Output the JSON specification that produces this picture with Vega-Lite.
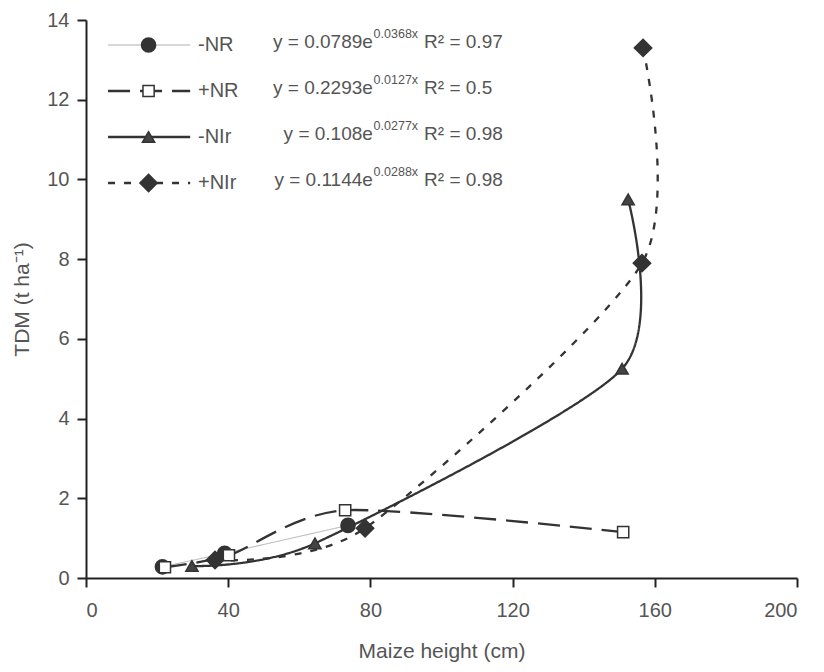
{
  "$schema": "https://vega.github.io/schema/vega-lite/v6.json",
  "autosize": {"type": "none"},
  "width": 711,
  "height": 558,
  "padding": {"left": 86, "top": 20, "right": 27, "bottom": 94},
  "background": "white",
  "config": {
    "font": "Liberation Sans",
    "view": {"stroke": null},
    "axis": {
      "grid": false,
      "domainColor": "#222",
      "domainWidth": 2,
      "tickColor": "#222",
      "tickWidth": 2,
      "tickSize": 9,
      "labelColor": "#555",
      "titleColor": "#555",
      "labelFont": "Liberation Sans",
      "titleFont": "Liberation Sans",
      "titleFontWeight": "normal",
      "labelFontSize": 20,
      "titleFontSize": 21
    }
  },
  "datasets": {
    "obs": [
      {"series": "-NR", "h": 21.5, "tdm": 0.28},
      {"series": "-NR", "h": 39.0, "tdm": 0.62},
      {"series": "-NR", "h": 73.7, "tdm": 1.32},
      {"series": "+NR", "h": 22.2, "tdm": 0.27},
      {"series": "+NR", "h": 40.2, "tdm": 0.57},
      {"series": "+NR", "h": 72.9, "tdm": 1.7},
      {"series": "+NR", "h": 151.1, "tdm": 1.15},
      {"series": "-NIr", "h": 29.8, "tdm": 0.3},
      {"series": "-NIr", "h": 64.4, "tdm": 0.87},
      {"series": "-NIr", "h": 150.8, "tdm": 5.25},
      {"series": "-NIr", "h": 152.5, "tdm": 9.5},
      {"series": "+NIr", "h": 36.3, "tdm": 0.45},
      {"series": "+NIr", "h": 78.5, "tdm": 1.25},
      {"series": "+NIr", "h": 156.4, "tdm": 7.9},
      {"series": "+NIr", "h": 156.7, "tdm": 13.3}
    ],
    "legend": [
      {"series": "-NR", "base": "y = 0.0789e", "exp": "0.0368x", "tail": "R² = 0.97"},
      {"series": "+NR", "base": "y = 0.2293e", "exp": "0.0127x", "tail": "R² = 0.5"},
      {"series": "-NIr", "base": "y = 0.108e", "exp": "0.0277x", "tail": "R² = 0.98"},
      {"series": "+NIr", "base": "y = 0.1144e", "exp": "0.0288x", "tail": "R² = 0.98"}
    ]
  },
  "layer": [
    {
      "data": {"name": "obs"},
      "encoding": {
        "x": {
          "field": "h", "type": "quantitative",
          "scale": {"domain": [0, 200], "nice": false},
          "axis": {"values": [0, 40, 80, 120, 160, 200], "title": "Maize height (cm)", "labelPadding": 13, "titlePadding": 20}
        },
        "y": {
          "field": "tdm", "type": "quantitative",
          "scale": {"domain": [0, 14], "nice": false},
          "axis": {"values": [0, 2, 4, 6, 8, 10, 12, 14], "title": "TDM (t ha⁻¹)", "labelPadding": 8, "titlePadding": 14}
        }
      },
      "layer": [
        {
          "mark": {"type": "line", "interpolate": "cardinal", "tension": 0.25},
          "encoding": {
            "detail": {"field": "series"},
            "strokeDash": {"field": "series", "type": "nominal", "scale": {"domain": ["-NR", "+NR", "-NIr", "+NIr"], "range": [[1, 0], [22, 10], [1, 0], [7, 9]]}, "legend": null},
            "stroke": {"field": "series", "type": "nominal", "scale": {"domain": ["-NR", "+NR", "-NIr", "+NIr"], "range": ["#b0b0b0", "#333333", "#333333", "#333333"]}, "legend": null},
            "strokeWidth": {"field": "series", "type": "ordinal", "scale": {"type": "ordinal", "domain": ["-NR", "+NR", "-NIr", "+NIr"], "range": [1, 2.3, 2.3, 2.3]}, "legend": null}
          }
        },
        {
          "mark": {"type": "point", "filled": true, "stroke": "#333333", "strokeWidth": 1.5, "opacity": 1},
          "encoding": {
            "shape": {"field": "series", "type": "nominal", "scale": {"domain": ["-NR", "+NR", "-NIr", "+NIr"], "range": ["circle", "square", "triangle-up", "diamond"]}, "legend": null},
            "fill": {"field": "series", "type": "nominal", "scale": {"domain": ["-NR", "+NR", "-NIr", "+NIr"], "range": ["#333333", "#ffffff", "#444444", "#333333"]}, "legend": null},
            "size": {"field": "series", "type": "ordinal", "scale": {"type": "ordinal", "domain": ["-NR", "+NR", "-NIr", "+NIr"], "range": [200, 125, 150, 300]}, "legend": null}
          }
        }
      ]
    },
    {
      "data": {"name": "legend"},
      "encoding": {
        "y": {"field": "series", "type": "nominal", "scale": {"type": "point", "domain": ["-NR", "+NR", "-NIr", "+NIr"], "range": [25, 163], "padding": 0}, "axis": null}
      },
      "layer": [
        {
          "mark": {"type": "rule"},
          "encoding": {
            "x": {"datum": 6.2},
            "x2": {"datum": 29.3},
            "strokeDash": {"field": "series", "type": "nominal", "scale": {"domain": ["-NR", "+NR", "-NIr", "+NIr"], "range": [[1, 0], [22, 10], [1, 0], [7, 9]]}, "legend": null},
            "stroke": {"field": "series", "type": "nominal", "scale": {"domain": ["-NR", "+NR", "-NIr", "+NIr"], "range": ["#b0b0b0", "#333333", "#333333", "#333333"]}, "legend": null},
            "strokeWidth": {"field": "series", "type": "ordinal", "scale": {"type": "ordinal", "domain": ["-NR", "+NR", "-NIr", "+NIr"], "range": [1, 2.3, 2.3, 2.3]}, "legend": null}
          }
        },
        {
          "mark": {"type": "point", "filled": true, "stroke": "#333333", "strokeWidth": 1.5, "opacity": 1},
          "encoding": {
            "x": {"datum": 17.6},
            "shape": {"field": "series", "type": "nominal", "scale": {"domain": ["-NR", "+NR", "-NIr", "+NIr"], "range": ["circle", "square", "triangle-up", "diamond"]}, "legend": null},
            "fill": {"field": "series", "type": "nominal", "scale": {"domain": ["-NR", "+NR", "-NIr", "+NIr"], "range": ["#333333", "#ffffff", "#444444", "#333333"]}, "legend": null},
            "size": {"field": "series", "type": "ordinal", "scale": {"type": "ordinal", "domain": ["-NR", "+NR", "-NIr", "+NIr"], "range": [200, 125, 150, 300]}, "legend": null}
          }
        },
        {
          "mark": {"type": "text", "align": "left", "baseline": "middle", "fontSize": 20, "color": "#555555"},
          "encoding": {
            "x": {"datum": 31.5},
            "text": {"field": "series"}
          }
        },
        {
          "mark": {"type": "text", "align": "right", "baseline": "middle", "fontSize": 19, "color": "#555555", "dy": -3},
          "encoding": {
            "x": {"datum": 80.7},
            "text": {"field": "base"}
          }
        },
        {
          "mark": {"type": "text", "align": "left", "baseline": "middle", "fontSize": 12.5, "color": "#555555", "dy": -11},
          "encoding": {
            "x": {"datum": 80.9},
            "text": {"field": "exp"}
          }
        },
        {
          "mark": {"type": "text", "align": "left", "baseline": "middle", "fontSize": 19, "color": "#555555", "dy": -3},
          "encoding": {
            "x": {"datum": 95.1},
            "text": {"field": "tail"}
          }
        }
      ]
    }
  ],
  "resolve": {"scale": {"y": "independent"}}
}
